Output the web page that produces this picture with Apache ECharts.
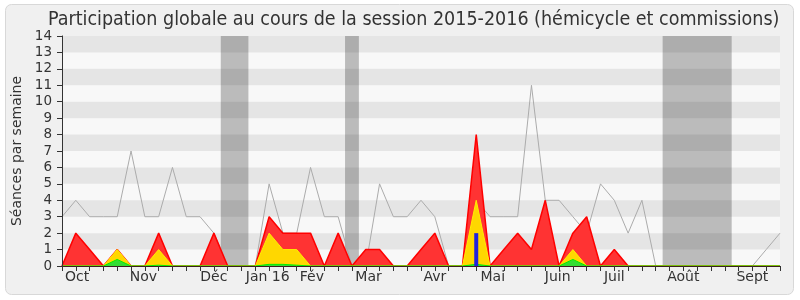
<!DOCTYPE html>
<html><head><meta charset="utf-8">
<script src="https://cdn.jsdelivr.net/npm/echarts@6/dist/echarts.min.js"></script>
<style>html,body{margin:0;padding:0;background:#fff}#c{width:800px;height:300px}</style>
</head><body><div id="c"></div>
<script>
// week index (x positions) of each weekly sample, Sept 2015 -> Sept 2016
const weeks = [0,1,2,3,4,5,6,7,8,9,10,11,12,13,14,15,16,17,18,19,20,21,22,23,24,25,26,27,28,29,30,31,32,33,34,35,36,37,38,39,40,41,42,43,44,45,46,47,48,49,50,51,52];
// grey line: séances per week
const seances = [3,4,3,3,3,7,3,3,6,3,3,2,0,0,0,5,2,2,6,3,3,0,0,5,3,3,4,3,0,0,4,3,3,3,11,4,4,3,2,5,4,2,4,0,0,0,0,0,0,0,0,1,2];
// red area: total presence
const presence = [0,2,1,0,1,0,0,2,0,0,0,2,0,0,0,3,2,2,2,0,2,0,1,1,0,0,1,2,0,0,8,0,1,2,1,4,0,2,3,0,1,0,0,0,0,0,0,0,0,0,0,0,0];
// yellow area
const presenceHemicycle = [0,0,0,0,1,0,0,1,0,0,0,0,0,0,0,2,1,1,0,0,0,0,0,0,0,0,0,0,0,0,4,0,0,0,0,0,0,1,0,0,0,0,0,0,0,0,0,0,0,0,0,0,0];
// green area
const interventions = [0,0,0,0,0.4,0,0,0.05,0,0,0,0,0,0,0,0.1,0.1,0.05,0,0,0,0,0,0,0,0,0,0,0,0,0.1,0,0,0,0,0,0,0.4,0,0,0,0,0,0,0,0,0,0,0,0,0,0,0];
// blue bar
const questionsWeek = [30];
const questionsVal = [2];
// month tick labels
const monthLabels = ['Oct','Nov','Déc','Jan 16','Fév','Mar','Avr','Mai','Juin','Juil','Août','Sept'];
const monthPos = [1.1,5.9,11.0,14.9,18.1,22.2,27.0,31.2,35.9,40.0,45.0,50.0];
// vacation bands (week ranges)
const vacStart = [11.5,20.5,43.5];
const vacEnd = [13.5,21.5,48.5];
// darker stripe rows on y
const stripeFrom = [1,3,5,7,9,11,13];

const pairs = a => weeks.map((w,i)=>[w,a[i]]);

const chart = echarts.init(document.getElementById('c'), null, {renderer:'canvas'});
const FONT = 'DejaVu Sans';
chart.setOption({
  animation:false,
  backgroundColor:'#ffffff',
  graphic:[{type:'rect',z:-10,shape:{x:5.5,y:4.5,width:788,height:290,r:6},style:{fill:'#f0f0f0',stroke:'#d8d8d8',lineWidth:1}}],
  title:{text:'Participation globale au cours de la session 2015-2016 (hémicycle et commissions)',left:43,top:5,
    textStyle:{fontFamily:'DejaVu Sans Condensed',fontSize:19.5,fontWeight:'normal',color:'#333'}},
  grid:{left:62,right:20,top:36,bottom:34,show:true,backgroundColor:'#f8f8f8',borderWidth:0},
  xAxis:[{type:'value',min:0,max:52,interval:1,position:'bottom',z:10,
    axisLine:{show:true,onZero:false,lineStyle:{color:'#3b1e1e',width:1}},
    axisTick:{show:true,length:5,lineStyle:{color:'#333'}},
    axisLabel:{customValues:monthPos,margin:4,fontFamily:FONT,fontSize:14,color:'#333',
      formatter:v=>{const k=monthPos.indexOf(v);return k>=0?monthLabels[k]:'';}},
    splitLine:{show:false}},
   {type:'value',min:0,max:52,interval:1,position:'top',
    axisLine:{show:false},axisTick:{show:true,inside:true,length:2,lineStyle:{color:'#333'}},
    axisLabel:{show:false},splitLine:{show:false}}],
  yAxis:[{type:'value',min:0,max:14,interval:1,z:10,
    name:'Séances par semaine',nameLocation:'middle',nameGap:37,
    nameTextStyle:{fontFamily:FONT,fontSize:14,color:'#333'},
    axisLine:{show:true,lineStyle:{color:'#333'}},
    axisTick:{show:true,length:5,lineStyle:{color:'#333'}},
    axisLabel:{margin:10,fontFamily:FONT,fontSize:13.5,color:'#333'},
    splitLine:{show:false}},
   {type:'value',min:0,max:14,position:'right',axisLine:{show:true,lineStyle:{color:'#c8c8c8'}},
    axisTick:{show:false},axisLabel:{show:false},splitLine:{show:false}}],
  series:[
    {type:'line',name:'séances',data:pairs(seances),showSymbol:false,z:1,
     lineStyle:{color:'#ababab',width:1},silent:true},
    {type:'line',data:[],z:2,silent:true,
     markArea:{silent:true,itemStyle:{color:'#bbbbbb'},label:{show:false},
       data:vacStart.map((s,i)=>[{xAxis:s},{xAxis:vacEnd[i]}])}},
    {type:'line',data:[],z:3,silent:true,
     markArea:{silent:true,itemStyle:{color:'rgba(0,0,0,0.073)'},label:{show:false},
       data:stripeFrom.map(s=>[{yAxis:s},{yAxis:s+1}])}},
    {type:'line',name:'présence',data:pairs(presence),showSymbol:false,z:4,
     lineStyle:{color:'#ff0000',width:1.5},areaStyle:{color:'#ff3333',opacity:1},silent:true},
    {type:'line',name:'hémicycle',data:pairs(presenceHemicycle),showSymbol:false,z:5,
     lineStyle:{color:'#ffee00',width:1},areaStyle:{color:'#ffd700',opacity:1},silent:true},
    {type:'line',name:'interventions',data:pairs(interventions),showSymbol:false,z:6,
     lineStyle:{color:'#00ee00',width:1},areaStyle:{color:'#33dd33',opacity:1},silent:true},
    {type:'bar',name:'questions',data:questionsWeek.map((w,i)=>[w,questionsVal[i]]),barWidth:4,z:7,
     itemStyle:{color:'#2222dd'},silent:true}
  ]
});
</script></body></html>
